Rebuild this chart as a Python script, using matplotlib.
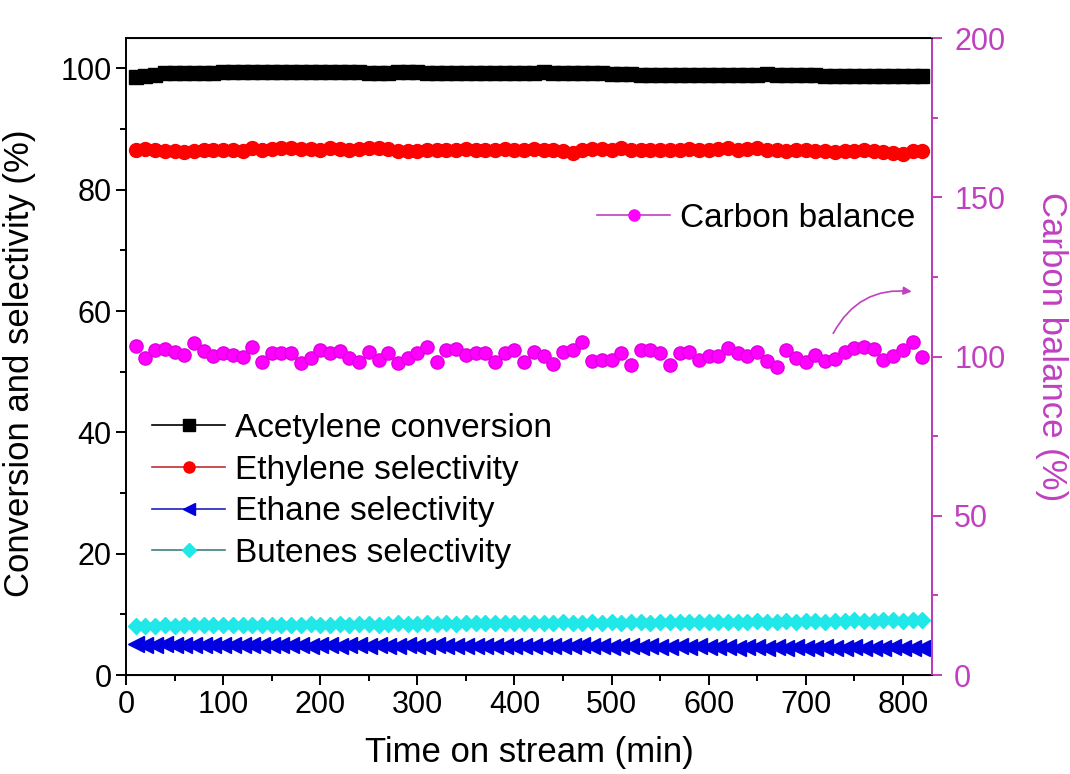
import matplotlib.pyplot as plt
from matplotlib.lines import Line2D
from matplotlib.ticker import MultipleLocator

plt.rcParams['font.family'] = ['Liberation Sans', 'DejaVu Sans']

# time on stream (min), one reading every 10 min
time_min = list(range(10, 830, 10))

acetylene_conv = [98.5, 98.8, 98.9,
                  99.2, 99.2, 99.2, 99.2, 99.2, 99.2,
                  99.4, 99.4, 99.4, 99.4, 99.4, 99.4, 99.4, 99.4, 99.4, 99.4,
                  99.4, 99.4, 99.4, 99.4, 99.4, 99.3, 99.3, 99.3, 99.4, 99.4, 99.4,
                  99.2, 99.2, 99.2, 99.2, 99.2, 99.2, 99.2, 99.2, 99.2, 99.2,
                  99.2, 99.2, 99.4, 99.2, 99.2, 99.2, 99.2, 99.2, 99.2,
                  99.0, 99.0, 99.0,
                  98.9, 98.9, 98.9, 98.9, 98.9, 98.9, 98.9, 98.9, 98.9, 98.9,
                  98.9, 98.9, 98.9, 99.0, 98.9, 98.9, 98.9, 98.9, 98.9,
                  98.7, 98.7, 98.7, 98.7, 98.7, 98.7, 98.7, 98.7, 98.7, 98.7, 98.7]

ethylene_sel = [86.6, 86.7, 86.5, 86.4, 86.4, 86.2,
                86.4, 86.5, 86.6, 86.6, 86.5, 86.4,
                86.8, 86.6, 86.7, 86.8, 86.9, 86.7,
                86.7, 86.6, 86.8, 86.7, 86.6, 86.7,
                86.8, 86.9, 86.7, 86.4, 86.3, 86.4,
                86.5, 86.6, 86.5, 86.6, 86.7, 86.6,
                86.5, 86.6, 86.7, 86.6, 86.6, 86.7,
                86.6, 86.5, 86.3, 86.0, 86.5, 86.7,
                86.7, 86.6, 86.8, 86.6, 86.5, 86.6,
                86.5, 86.6, 86.6, 86.7, 86.5, 86.6,
                86.7, 86.8, 86.6, 86.7, 86.8, 86.6,
                86.5, 86.4, 86.6, 86.5, 86.4, 86.3,
                86.2, 86.3, 86.4, 86.5, 86.4, 86.2,
                86.1, 85.9, 86.3, 86.4]

ethane_sel = [5.1, 5.0, 5.0, 5.1, 5.0, 4.9, 5.0, 5.0, 4.9, 5.0, 4.9, 5.0,
              4.9, 5.0, 4.9, 4.9, 5.0, 4.9, 4.8, 4.9, 4.9, 4.8, 4.9, 4.9,
              4.8, 4.9, 4.8, 4.8, 5.0, 4.8, 4.8, 4.9, 4.8, 4.7, 4.8, 4.8,
              4.7, 4.8, 4.8, 4.7, 4.8, 4.7, 4.8, 4.7, 4.7, 4.8, 4.9, 4.7,
              4.7, 4.6, 4.7, 4.7, 4.6, 4.7, 4.6, 4.6, 4.7, 4.6, 4.7, 4.6,
              4.6, 4.6, 4.5, 4.6, 4.6, 4.5, 4.6, 4.5, 4.6, 4.5, 4.5, 4.6,
              4.5, 4.5, 4.6, 4.5, 4.5, 4.5, 4.6, 4.5, 4.5, 4.5]

butenes_sel = [8.0, 8.1, 8.1, 8.2, 8.1, 8.2, 8.2, 8.3, 8.2, 8.2, 8.3, 8.2,
               8.3, 8.2, 8.3, 8.3, 8.2, 8.3, 8.4, 8.3, 8.3, 8.4, 8.3, 8.4,
               8.4, 8.3, 8.4, 8.5, 8.4, 8.4, 8.5, 8.4, 8.5, 8.4, 8.5, 8.5,
               8.5, 8.6, 8.5, 8.5, 8.6, 8.5, 8.6, 8.6, 8.7, 8.6, 8.6, 8.7,
               8.6, 8.7, 8.6, 8.7, 8.7, 8.6, 8.7, 8.8, 8.7, 8.7, 8.8, 8.7,
               8.8, 8.7, 8.8, 8.8, 8.9, 8.8, 8.8, 8.9, 8.8, 8.9, 8.9, 8.8,
               8.9, 8.9, 9.0, 8.9, 8.9, 9.1, 9.0, 8.9, 9.0, 9.0]

carbon_balance = [103.3, 99.4, 102.0, 102.3, 101.5, 100.5, 104.1, 101.8, 100.2, 101.1,
                  100.5, 100.0, 102.9, 98.4, 101.2, 101.0, 101.0, 97.9, 99.4, 102.0,
                  101.0, 101.8, 99.4, 98.4, 101.5, 98.9, 101.0, 97.9, 99.4, 101.2,
                  102.9, 98.4, 102.0, 102.3, 100.5, 101.0, 101.2, 98.4, 101.0, 102.0,
                  98.4, 101.5, 100.2, 97.6, 101.5, 102.0, 104.7, 98.7, 98.9, 98.9,
                  101.0, 97.3, 102.0, 102.0, 101.0, 97.3, 101.2, 101.5, 98.9, 100.2,
                  100.2, 102.6, 101.2, 100.2, 101.5, 98.7, 96.8, 102.0, 99.4, 98.4,
                  100.5, 98.7, 99.1, 101.5, 102.6, 102.9, 102.3, 98.9, 100.2, 102.0,
                  104.7, 100.0]

MAG = '#c040c0'
FS_TICK = 22
FS_LAB = 25
FS_LEG = 24

fig = plt.figure(figsize=(10.7, 7.74), dpi=100)
ax = fig.add_axes([0.1178, 0.1279, 0.871 - 0.1178, 0.9509 - 0.1279])
ax2 = ax.twinx()

# =========================
# LEFT AXIS SERIES
# =========================
ax.plot(time_min, acetylene_conv, ls='none', marker='s', ms=10, color='black')
ax.plot(time_min, ethylene_sel, ls='none', marker='o', ms=10, color='#ff0000')
ax.plot(time_min, ethane_sel, ls='none', marker='<', ms=11, color='#0000e0')
ax.plot(time_min, butenes_sel, ls='none', marker='D', ms=8.5, color='#20e8e8')

ax.set_xlim(0, 830)
ax.set_ylim(0, 105)
ax.xaxis.set_major_locator(MultipleLocator(100))
ax.xaxis.set_minor_locator(MultipleLocator(50))
ax.yaxis.set_major_locator(MultipleLocator(20))
ax.yaxis.set_minor_locator(MultipleLocator(10))
ax.tick_params(which='both', direction='out', width=1.4, labelsize=FS_TICK)
ax.tick_params(which='major', length=7)
ax.tick_params(which='minor', length=4)
ax.set_xlabel("Time on stream (min)", fontsize=FS_LAB)
ax.set_ylabel("Conversion and selectivity (%)", fontsize=FS_LAB)
ax.xaxis.set_label_coords(0.5, -0.095)
ax.yaxis.set_label_coords(-0.112, 0.49)
for s in ax.spines.values():
    s.set_linewidth(1.4)

# =========================
# RIGHT AXIS: CARBON BALANCE
# =========================
ax2.plot(time_min, carbon_balance, ls='none', marker='o', ms=9.5,
         color='#ff00ff', mec='#e000e0')
ax2.set_ylim(0, 200)
ax2.yaxis.set_major_locator(MultipleLocator(50))
ax2.yaxis.set_minor_locator(MultipleLocator(25))
ax2.tick_params(which='both', direction='out', width=1.4, colors=MAG,
                labelsize=FS_TICK, pad=9)
ax2.tick_params(which='major', length=7)
ax2.tick_params(which='minor', length=4)
ax2.spines['right'].set_color(MAG)
ax2.spines['right'].set_linewidth(1.4)
ax2.spines['left'].set_visible(False)
ax2.set_ylabel("Carbon balance (%)", fontsize=FS_LAB, color=MAG, rotation=270,
               va='bottom')
ax2.yaxis.set_label_coords(1.128, 0.515)

ax2.annotate('', xy=(812, 120.3), xytext=(727, 106.5),
             arrowprops=dict(arrowstyle='-|>', color=MAG, lw=1.2,
                             mutation_scale=12,
                             connectionstyle='arc3,rad=-0.35'))

# =========================
# LEGENDS
# =========================
h1 = [Line2D([], [], color='black', marker='s', ms=8, lw=1.2),
      Line2D([], [], color='#c03030', marker='o', ms=8, mfc='#ff0000', mec='#ff0000', lw=1.2),
      Line2D([], [], color='#2020c0', marker='<', ms=9, mfc='#0000e0', mec='#0000e0', lw=1.2),
      Line2D([], [], color='#408080', marker='D', ms=7, mfc='#20e8e8', mec='#20e8e8', lw=1.2)]
lab1 = ["Acetylene conversion", "Ethylene selectivity",
        "Ethane selectivity", "Butenes selectivity"]
fig.legend(h1, lab1, loc='upper left', bbox_to_anchor=(152 / 1070, 1 - 413 / 774),
           frameon=False, fontsize=FS_LEG, handlelength=2.2, handletextpad=0.3,
           labelspacing=0.32, borderpad=0, borderaxespad=0)

h2 = [Line2D([], [], color=MAG, marker='o', ms=8, mfc='#ff00ff', mec='#ff00ff', lw=1.2)]
fig.legend(h2, ["Carbon balance"], loc='upper left',
           bbox_to_anchor=(597 / 1070, 1 - 203 / 774),
           frameon=False, fontsize=FS_LEG, handlelength=2.2, handletextpad=0.3,
           borderpad=0, borderaxespad=0)

fig.savefig("out.png", dpi=100)
